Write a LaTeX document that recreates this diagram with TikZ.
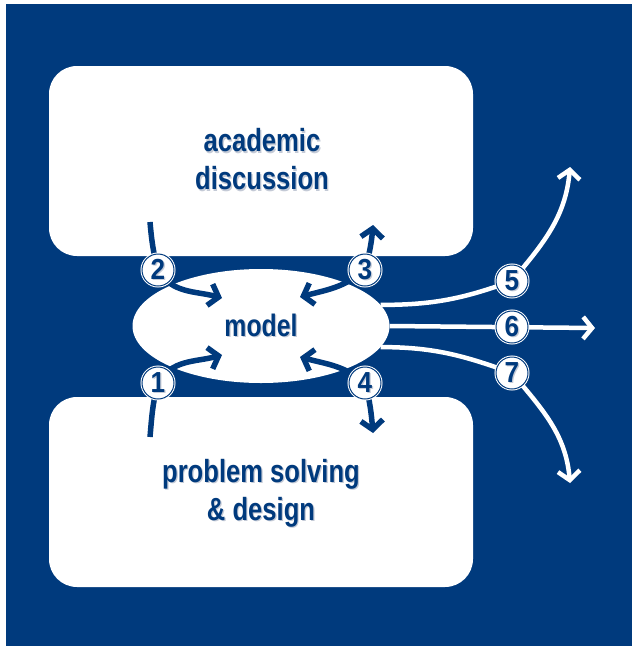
\documentclass[tikz,border=0pt]{standalone}
\usepackage{fontspec}
\newfontfamily\condfont[FakeStretch=0.8]{Liberation Sans}
\newfontfamily\digitfont[FakeStretch=0.9]{Liberation Sans}
\usetikzlibrary{arrows.meta,shapes.geometric}
\definecolor{navy}{RGB}{0,58,125}
\definecolor{shade}{RGB}{196,202,214}
% text with a soft drop shadow
\newcommand\shd[1]{\leavevmode\rlap{\kern1.2pt\raisebox{-1.2pt}{\textcolor{shade}{#1}}}#1}
\tikzset{
  panel/.style={fill=white, rounded corners=28pt},
  label/.style={text=navy, align=center, font=\condfont\bfseries\fontsize{32}{38}\selectfont},
  blueflow/.style={draw=navy, line width=5.5pt, -{Straight Barb[length=9pt,width=22pt]}},
  bluetwoway/.style={draw=navy, line width=5.5pt, {Straight Barb[length=9pt,width=22pt]}-{Straight Barb[length=9pt,width=22pt]}},
  whiteflow/.style={draw=white, line width=4.5pt, -{Straight Barb[length=9pt,width=22pt]}},
  num/.style={circle, fill=white, draw=navy, line width=1pt, minimum size=32pt, inner sep=0pt,
    preaction={draw=white, line width=3pt}, text=navy,
    font=\digitfont\bfseries\fontsize{29}{29}\selectfont},
}
\begin{document}
\begin{tikzpicture}[x=1pt,y=1pt]
\useasboundingbox (0,0) rectangle (632,-646);
\fill[white] (0,0) rectangle (632,-646);
\fill[navy] (6,-4) rectangle (632,-646);

% the two white panels
\fill[panel] (49,-66) rectangle (473,-256);
\fill[panel] (49,-397) rectangle (473,-587);
\node[label] (acad) at (262,-160) {\shd{academic}\\\shd{discussion}};
\node[label] (prob) at (261,-494) {\shd{problem solving}\\\shd{\& design}};

% central model
\node[ellipse, fill=white, minimum width=257pt, minimum height=114pt, inner sep=0pt,
      text=navy, font=\condfont\bfseries\fontsize{31}{31}\selectfont] (model) at (261,-326) {\shd{model}};

% positions of the numbered markers
\coordinate (p1) at (158,-383);
\coordinate (p2) at (158,-270);
\coordinate (p3) at (365,-270);
\coordinate (p4) at (365,-383);
\coordinate (p5) at (512,-281);
\coordinate (p6) at (512,-327);
\coordinate (p7) at (512,-373);

% free ends of the flows
\coordinate (s1) at (150,-437);
\coordinate (e1) at (222,-355);
\coordinate (s2) at (150,-222);
\coordinate (e2) at (222,-298);
\coordinate (a3) at (300,-297);
\coordinate (b3) at (373,-225);
\coordinate (a4) at (300,-357);
\coordinate (b4) at (373,-433);
\coordinate (e5) at (570,-167);
\coordinate (e6) at (595,-328);
\coordinate (e7) at (570,-483);

% flows between the panels and the model
\draw[blueflow] (s2) to[out=-85,in=105] (p2) to[out=-60,in=165] (e2);
\draw[blueflow] (s1) to[out=85,in=-105] (p1) to[out=60,in=-165] (e1);
\draw[bluetwoway] (a3) to[out=15,in=-140] (p3) to[out=75,in=-95] (b3);
\draw[bluetwoway] (a4) to[out=-15,in=140] (p4) to[out=-75,in=95] (b4);

% flows out of the model
\draw[whiteflow] (model.10) to[out=0,in=200] (p5) to[out=50,in=-95] (e5);
\draw[whiteflow] (model.east) -- (e6);
\draw[whiteflow] (model.-10) to[out=0,in=160] (p7) to[out=-50,in=95] (e7);

% numbered markers
\node[num] (c1) at (p1) {\shd{1}};
\node[num] (c2) at (p2) {\shd{2}};
\node[num] (c3) at (p3) {\shd{3}};
\node[num] (c4) at (p4) {\shd{4}};
\node[num] (c5) at (p5) {\shd{5}};
\node[num] (c6) at (p6) {\shd{6}};
\node[num] (c7) at (p7) {\shd{7}};
\end{tikzpicture}
\end{document}
